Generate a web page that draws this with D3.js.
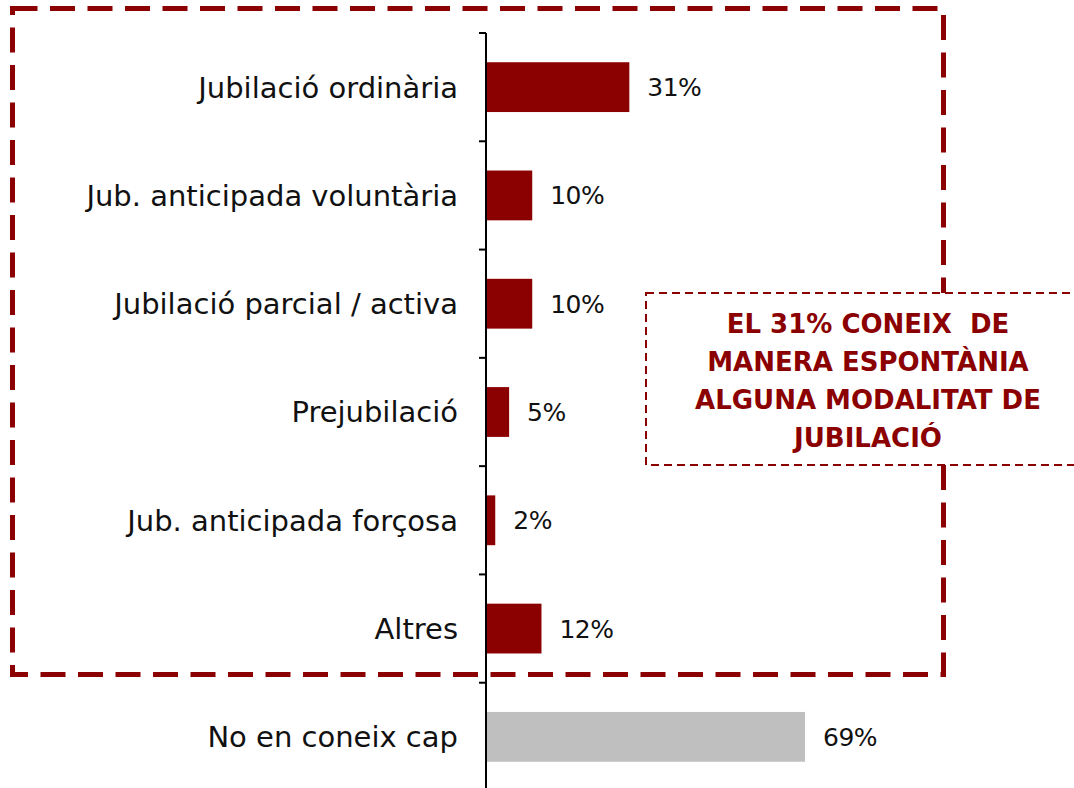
<!DOCTYPE html>
<html>
<head>
<meta charset="utf-8">
<script src="https://cdn.jsdelivr.net/npm/d3@7"></script>
<style>
  html, body { margin: 0; padding: 0; background: #fff; }
  svg { display: block; }
</style>
</head>
<body>
<div class="svg"></div>
<script>
// data
const categories = [
  "Jubilació ordinària",
  "Jub. anticipada voluntària",
  "Jubilació parcial / activa",
  "Prejubilació",
  "Jub. anticipada forçosa",
  "Altres",
  "No en coneix cap"
];
const values = [31, 10, 10, 5, 2, 12, 69];
const calloutLines = [
  "EL 31% CONEIX  DE",
  "MANERA ESPONTÀNIA",
  "ALGUNA MODALITAT DE",
  "JUBILACIÓ"
];

const red = "#8B0000";
const grey = "#BFBFBF";
const W = 1074, H = 788;

const svg = d3.select(".svg").append("svg")
  .attr("width", W)
  .attr("height", H);

const x = d3.scaleLinear()
  .domain([0, 69])
  .range([486, 805]);

const y = d3.scaleBand()
  .domain(categories)
  .range([33, 791])
  .paddingInner(0.54)
  .paddingOuter(0.27);

const step = y.step();
const data = categories.map((c, i) => ({label: c, value: values[i]}));

//=========== BARS ===========//
svg.selectAll(".bar")
  .data(data)
  .enter().append("rect")
  .attr("class", "bar")
  .attr("x", x(0))
  .attr("y", d => y(d.label))
  .attr("width", d => x(d.value) - x(0))
  .attr("height", y.bandwidth())
  .attr("fill", d => d.label === "No en coneix cap" ? grey : red);

// value labels
svg.selectAll(".val")
  .data(data)
  .enter().append("text")
  .attr("class", "val")
  .attr("x", d => x(d.value) + 18)
  .attr("y", d => y(d.label) + y.bandwidth() / 2)
  .attr("dy", "0.36em")
  .style("font-family", "DejaVu Sans, sans-serif")
  .style("font-size", "25px")
  .style("letter-spacing", "-0.5px")
  .style("fill", "#111")
  .text(d => d.value + "%");

// category labels
svg.selectAll(".cat")
  .data(data)
  .enter().append("text")
  .attr("class", "cat")
  .attr("x", x(0) - 28)
  .attr("y", d => y(d.label) + y.bandwidth() / 2)
  .attr("dy", "0.36em")
  .attr("text-anchor", "end")
  .style("font-family", "DejaVu Sans, sans-serif")
  .style("font-size", "29px")
  .style("fill", "#111")
  .text(d => d.label);

//=========== AXIS ===========//
const tickYs = categories.map(c => y(c) - step * y.paddingInner() / 2);
tickYs.push(tickYs[tickYs.length - 1] + step);

svg.append("line")
  .attr("x1", x(0)).attr("x2", x(0))
  .attr("y1", tickYs[0]).attr("y2", H + 5)
  .attr("stroke", "#000")
  .attr("stroke-width", 2);

svg.selectAll(".tick")
  .data(tickYs)
  .enter().append("line")
  .attr("class", "tick")
  .attr("x1", x(0) - 7).attr("x2", x(0))
  .attr("y1", d => d).attr("y2", d => d)
  .attr("stroke", "#000")
  .attr("stroke-width", 2);

//=========== DASHED FRAMES ===========//
svg.append("rect")
  .attr("x", 12.5).attr("y", 8.5)
  .attr("width", 931).attr("height", 666)
  .attr("fill", "none")
  .attr("stroke", red)
  .attr("stroke-width", 5)
  .attr("stroke-dasharray", "25,12.5");

svg.append("rect")
  .attr("x", 646).attr("y", 293)
  .attr("width", 460).attr("height", 172)
  .attr("fill", "#fff")
  .attr("stroke", red)
  .attr("stroke-width", 2)
  .attr("stroke-dasharray", "8,5");

svg.append("g")
  .selectAll("text")
  .data(calloutLines)
  .enter().append("text")
  .attr("x", 868)
  .attr("y", (d, i) => 333 + i * 38)
  .attr("text-anchor", "middle")
  .style("font-family", "DejaVu Sans, sans-serif")
  .style("font-weight", "bold")
  .style("font-size", "26px")
  .style("fill", red)
  .style("white-space", "pre")
  .text(d => d);
</script>
</body>
</html>
